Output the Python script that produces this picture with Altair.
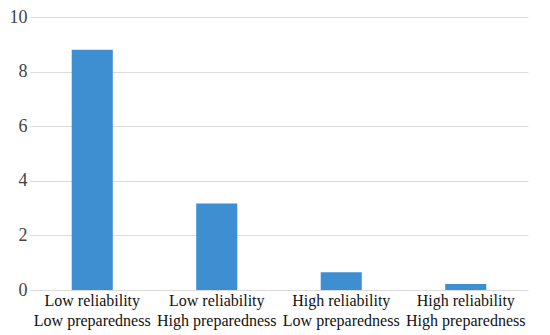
import altair as alt
import pandas as pd

categories = ["Low reliability|Low preparedness", "Low reliability|High preparedness",
              "High reliability|Low preparedness", "High reliability|High preparedness"]
values = [8.8, 3.17, 0.65, 0.22]

df = pd.DataFrame({"cat": categories, "val": values})

chart = alt.Chart(df).mark_bar(color="#3d8fd1").encode(
    x=alt.X("cat:N", sort=categories, title=None,
            scale=alt.Scale(paddingInner=0.67, paddingOuter=0.335),
            axis=alt.Axis(labelAngle=0, labelExpr="split(datum.value, '|')",
                          labelFont="Times New Roman, Liberation Serif, serif", labelFontSize=16,
                          labelColor="#111",
                          labelLineHeight=20, labelPadding=2, ticks=False, domain=False,
                          labelBaseline="top")),
    y=alt.Y("val:Q", title=None,
            scale=alt.Scale(domain=[0, 10]),
            axis=alt.Axis(values=[0, 2, 4, 6, 8, 10],
                          labelFont="Times New Roman, Liberation Serif, serif",
                          labelFontSize=18, labelColor="#444", ticks=False, domain=False,
                          labelPadding=3, gridColor="#dcdcdc", gridWidth=1)),
).properties(
    width=498, height=273,
    autosize=alt.AutoSizeParams(type="none"),
    padding={"left": 22, "top": 9, "right": 2, "bottom": 40},
).configure_view(stroke=None)

chart.save("out.html", embed_options={"renderer": "svg", "actions": False})
